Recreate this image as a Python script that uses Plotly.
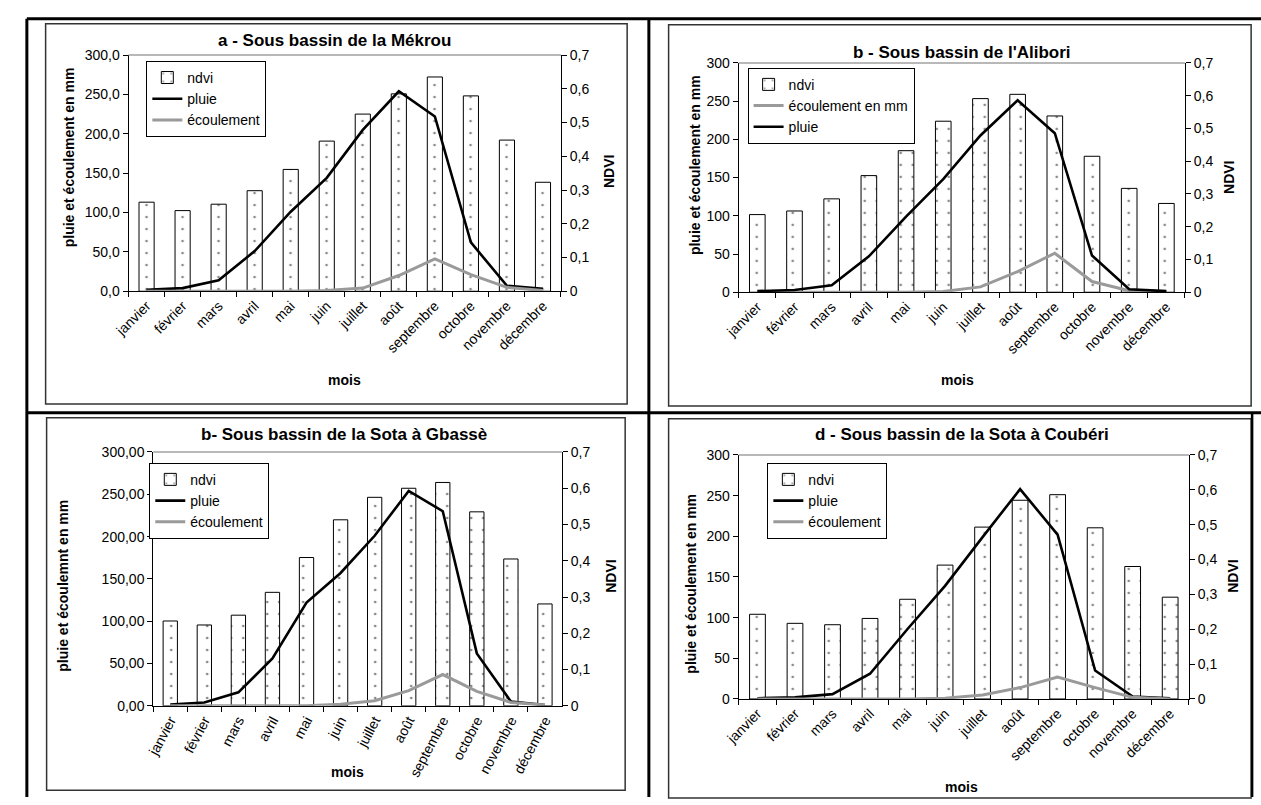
import plotly.graph_objects as go

# ---------------- data ----------------
mois = ["janvier", "février", "mars", "avril", "mai", "juin", "juillet",
        "août", "septembre", "octobre", "novembre", "décembre"]

# a - Mékrou
ndvi_a = [0.264, 0.239, 0.258, 0.298, 0.361, 0.445, 0.525, 0.585, 0.635, 0.579, 0.448, 0.323]
pluie_a = [2, 4, 14, 51, 101, 144, 205, 254, 222, 62, 7, 3]
ecoul_a = [0, 0, 0, 0, 0, 1, 4, 20, 41, 21, 5, 1]

# b - Alibori
ndvi_b = [0.237, 0.248, 0.285, 0.356, 0.432, 0.522, 0.591, 0.604, 0.538, 0.415, 0.317, 0.271]
pluie_b = [1.5, 3, 9, 47, 99, 148, 205, 251, 208, 48, 4, 1.5]
ecoul_b = [0, 0, 0, 0, 0, 1, 7, 27, 51, 14, 2, 1]

# c - Sota à Gbassè
ndvi_c = [0.234, 0.223, 0.250, 0.313, 0.409, 0.513, 0.575, 0.600, 0.616, 0.535, 0.405, 0.281]
pluie_c = [1.5, 4, 16, 56, 122, 157, 201, 254, 230, 62, 5, 1]
ecoul_c = [0, 0, 0, 0, 0, 2, 6, 18, 37, 17, 4, 1]

# d - Sota à Coubéri
ndvi_d = [0.243, 0.217, 0.213, 0.231, 0.286, 0.384, 0.493, 0.570, 0.586, 0.491, 0.380, 0.292]
pluie_d = [1, 2, 6, 31, 86, 139, 199, 258, 202, 35, 3, 1]
ecoul_d = [0, 0, 0, 0, 0, 1, 5, 14, 27, 14, 2, 0]

# ---------------- layout helpers ----------------
W, H = 1261, 805
FONT = "Liberation Sans, Arial, sans-serif"


def fx(v):
    return v / W


def fy(v):
    return 1 - v / H


panels = [
    dict(title="a - Sous bassin de la Mékrou", ndvi=ndvi_a, pluie=pluie_a, ecoul=ecoul_a,
         ecoul_name="écoulement", order=["pluie", "ecoul"],
         ytitle="pluie et écoulement en mm", yfmt=".1f",
         plot=(114, 552, 48, 289), frame=(30, 619, 16, 404), legend=(132, 54),
         title_xy=(323, 33), mois_xy=(333, 380), ytitle_xy=(54, 152), ndvi_xy=(600, 167),
         tickangle=-45),
    dict(title="b - Sous bassin de l'Alibori", ndvi=ndvi_b, pluie=pluie_b, ecoul=ecoul_b,
         ecoul_name="écoulement en mm", order=["ecoul", "pluie"],
         ytitle="pluie et écoulement en mm", yfmt="d",
         plot=(732, 1184, 56, 290), frame=(661, 1251, 17, 406), legend=(741, 61),
         title_xy=(958, 45), mois_xy=(954, 380), ytitle_xy=(688, 160), ndvi_xy=(1228, 173),
         tickangle=-45),
    dict(title="b- Sous bassin de la Sota à Gbassè", ndvi=ndvi_c, pluie=pluie_c, ecoul=ecoul_c,
         ecoul_name="écoulement", order=["pluie", "ecoul"],
         ytitle="pluie et écoulemnt en mm", yfmt=".2f",
         plot=(139, 553, 453, 712), frame=(31, 617, 418, 798), legend=(135, 464),
         title_xy=(332, 435), mois_xy=(336, 779), ytitle_xy=(48, 589), ndvi_xy=(603, 580),
         tickangle=-62),
    dict(title="d - Sous bassin de la Sota à Coubéri", ndvi=ndvi_d, pluie=pluie_d, ecoul=ecoul_d,
         ecoul_name="écoulement", order=["pluie", "ecoul"],
         ytitle="pluie et écoulement en mm", yfmt="d",
         plot=(732, 1188, 456, 705), frame=(661, 1251, 419, 806), legend=(761, 464),
         title_xy=(958, 435), mois_xy=(958, 795), ytitle_xy=(684, 587), ndvi_xy=(1233, 580),
         tickangle=-45),
]

fig = go.Figure()
lay = dict(width=W, height=H, margin=dict(l=0, r=0, t=0, b=0), autosize=False,
           paper_bgcolor="white", plot_bgcolor="rgba(0,0,0,0)", separators=", ",
           font=dict(family=FONT, size=14, color="black"), bargap=0.58,
           showlegend=True)
shapes = []
annotations = []

for i, p in enumerate(panels):
    k = i + 1
    xa = "x" if k == 1 else f"x{k}"
    xkey = "xaxis" if k == 1 else f"xaxis{k}"
    ybn, yln = 2 * k - 1, 2 * k
    yb = "y" if ybn == 1 else f"y{ybn}"
    ybkey = "yaxis" if ybn == 1 else f"yaxis{ybn}"
    yl = f"y{yln}"
    ylkey = f"yaxis{yln}"
    leg = "legend" if k == 1 else f"legend{k}"

    fig.add_trace(go.Bar(
        x=mois, y=p["ndvi"], name="ndvi", xaxis=xa, yaxis=yb, legend=leg, width=0.42,
        marker=dict(color="white", line=dict(color="black", width=1),
                    pattern=dict(shape=".", fgcolor="#111", bgcolor="white",
                                 size=12, solidity=0.04)),
        hoverinfo="skip"))
    for key in p["order"]:
        if key == "pluie":
            fig.add_trace(go.Scatter(x=mois, y=p["pluie"], name="pluie", mode="lines",
                                     xaxis=xa, yaxis=yl, legend=leg,
                                     line=dict(color="black", width=2.6)))
        else:
            fig.add_trace(go.Scatter(x=mois, y=p["ecoul"], name=p["ecoul_name"], mode="lines",
                                     xaxis=xa, yaxis=yl, legend=leg,
                                     line=dict(color="#9a9a9a", width=3)))

    x0, x1, yt, ybt = p["plot"]
    tickfont = dict(family=FONT, size=14, color="black")
    lay[xkey] = dict(domain=[fx(x0), fx(x1)], anchor=yb, type="category",
                     tickson="boundaries", ticks="outside", ticklen=5, tickcolor="black",
                     showline=True, linecolor="black", linewidth=1, showgrid=False,
                     zeroline=False, tickangle=p["tickangle"], tickfont=tickfont,
                     range=[-0.5, 11.5], fixedrange=True)
    lay[ybkey] = dict(domain=[fy(ybt), fy(yt)], anchor=xa, side="right", range=[0, 0.7],
                      dtick=0.1, tick0=0, ticks="outside", ticklen=5, tickcolor="black",
                      showline=True, linecolor="black", linewidth=1, showgrid=False,
                      zeroline=False, tickfont=tickfont, fixedrange=True)
    lay[ylkey] = dict(overlaying=yb, anchor=xa, side="left", range=[0, 300], dtick=50,
                      tick0=0, tickformat=p["yfmt"], ticks="outside", ticklen=5,
                      tickcolor="black", showline=True, linecolor="black", linewidth=1,
                      showgrid=False, zeroline=False, tickfont=tickfont, fixedrange=True)

    lx, ly = p["legend"]
    lay[leg] = dict(x=fx(lx), y=fy(ly), xanchor="left", yanchor="top", xref="paper",
                    yref="paper", bordercolor="black", borderwidth=1, bgcolor="white",
                    font=dict(family=FONT, size=14, color="black"), itemwidth=30,
                    tracegroupgap=0, traceorder="normal")

    # plot-area top border (grey)
    shapes.append(dict(type="line", xref=f"{xa} domain", yref=f"{yb} domain",
                       x0=0, x1=1, y0=1, y1=1, line=dict(color="#a0a0a0", width=1.5)))
    # chart frame
    fx0, fx1, fy0, fy1 = p["frame"]
    shapes.append(dict(type="rect", xref="paper", yref="paper", x0=fx(fx0), x1=fx(fx1),
                       y0=fy(fy1), y1=fy(fy0), line=dict(color="#333", width=1.5)))

    tx, ty = p["title_xy"]
    annotations.append(dict(text="<b>%s</b>" % p["title"], x=fx(tx), y=fy(ty), xref="paper",
                            yref="paper", showarrow=False, xanchor="center", yanchor="middle",
                            font=dict(family=FONT, size=17, color="black")))
    mx, my = p["mois_xy"]
    annotations.append(dict(text="<b>mois</b>", x=fx(mx), y=fy(my), xref="paper", yref="paper",
                            showarrow=False, xanchor="center", yanchor="middle",
                            font=dict(family=FONT, size=14, color="black")))
    ax_, ay_ = p["ytitle_xy"]
    annotations.append(dict(text="<b>%s</b>" % p["ytitle"], x=fx(ax_), y=fy(ay_), xref="paper",
                            yref="paper", showarrow=False, xanchor="center", yanchor="middle",
                            textangle=-90, font=dict(family=FONT, size=14, color="black")))
    nx, ny = p["ndvi_xy"]
    annotations.append(dict(text="<b>NDVI</b>", x=fx(nx), y=fy(ny), xref="paper", yref="paper",
                            showarrow=False, xanchor="center", yanchor="middle",
                            textangle=-90, font=dict(family=FONT, size=14, color="black")))

# table borders (thick black)
def tline(xa_, ya_, xb_, yb_, w=3):
    shapes.append(dict(type="line", xref="paper", yref="paper", x0=fx(xa_), y0=fy(ya_),
                       x1=fx(xb_), y1=fy(yb_), line=dict(color="black", width=w)))


tline(11, 11, 1261, 11)
tline(11, 11, 11, 805)
tline(641, 11, 641, 805)
tline(11, 413, 1261, 413)
tline(1252, 413, 1252, 805, 2.5)

lay["shapes"] = shapes
lay["annotations"] = annotations
fig.update_layout(**lay)

fig.write_html("out.html", include_plotlyjs=True, full_html=True,
               config=dict(displayModeBar=False, staticPlot=True),
               post_script="document.body.style.margin='0';document.body.style.overflow='hidden';")
